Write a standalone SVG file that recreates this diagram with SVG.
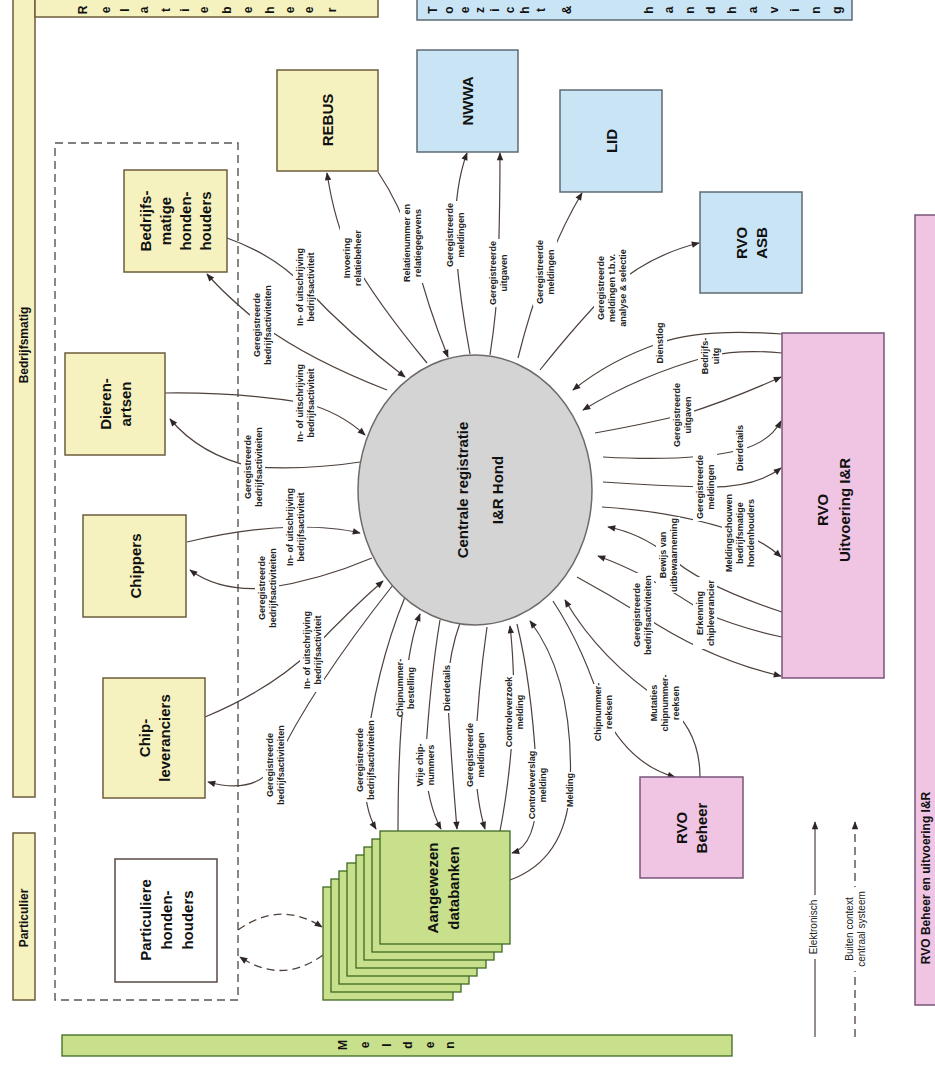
<svg xmlns="http://www.w3.org/2000/svg" width="935" height="1066" viewBox="0 0 935 1066">
<style>
.y{fill:#f6f2bf;stroke:#6e5c3c;stroke-width:1.5}
.b{fill:#c9e4f4;stroke:#5d6b73;stroke-width:1.5}
.p{fill:#efc5e3;stroke:#7a557a;stroke-width:1.5}
.g{fill:#c8df8c;stroke:#3e6a22;stroke-width:1.3}
.w{fill:#fff;stroke:#5a4a45;stroke-width:1.5}
.n{font-family:"Liberation Sans",Arial,sans-serif;font-weight:bold;font-size:15px;fill:#111;text-anchor:middle;dominant-baseline:central}
.bl{font-family:"Liberation Sans",Arial,sans-serif;font-weight:bold;font-size:12px;fill:#111;text-anchor:middle;dominant-baseline:central}
.c{fill:none;stroke:#4e413c;stroke-width:1.2;marker-end:url(#a)}
.d{fill:none;stroke:#4e413c;stroke-width:1.3;stroke-dasharray:8 5;marker-end:url(#a)}
.lb rect{fill:#fff}
.lb text{font-family:"Liberation Sans",Arial,sans-serif;font-weight:bold;font-size:9px;fill:#222;text-anchor:middle;dominant-baseline:central}
.lg text{font-family:"Liberation Sans",Arial,sans-serif;font-size:10px;fill:#222;text-anchor:middle;dominant-baseline:central}
</style>
<defs>
<marker id="a" viewBox="0 0 10 10" refX="9" refY="5" markerWidth="9" markerHeight="8" orient="auto" markerUnits="userSpaceOnUse"><path d="M0,1 L10,5 L0,9 z" fill="#2e2626"/></marker>
</defs>
<rect width="935" height="1066" fill="#fff"/>

<!-- swimlane bars -->
<g id="bar-bedrijfsmatig"><rect class="y" x="13" y="-2" width="22" height="799"/><text class="bl" font-size="14" transform="translate(24,345) rotate(-90)">Bedrijfsmatig</text></g>
<g id="bar-particulier"><rect class="y" x="13" y="833" width="22" height="167"/><text class="bl" font-size="15" transform="translate(24,918) rotate(-90)">Particulier</text></g>
<g id="bar-relatiebeheer"><rect class="y" x="35" y="-2" width="343" height="19"/>
<text class="bl" transform="translate(83,10) rotate(-90)">R</text><text class="bl" transform="translate(106,10) rotate(-90)">e</text><text class="bl" transform="translate(125,10) rotate(-90)">l</text><text class="bl" transform="translate(144,10) rotate(-90)">a</text><text class="bl" transform="translate(166,10) rotate(-90)">t</text><text class="bl" transform="translate(185,10) rotate(-90)">i</text><text class="bl" transform="translate(204,10) rotate(-90)">e</text><text class="bl" transform="translate(227,10) rotate(-90)">b</text><text class="bl" transform="translate(248,10) rotate(-90)">e</text><text class="bl" transform="translate(270,10) rotate(-90)">h</text><text class="bl" transform="translate(290,10) rotate(-90)">e</text><text class="bl" transform="translate(309,10) rotate(-90)">e</text><text class="bl" transform="translate(332,10) rotate(-90)">r</text>
</g>
<g id="bar-toezicht"><rect class="b" x="417" y="-2" width="435" height="22"/>
<text class="bl" transform="translate(433,10) rotate(-90)">T</text><text class="bl" transform="translate(449,10) rotate(-90)">o</text><text class="bl" transform="translate(465,10) rotate(-90)">e</text><text class="bl" transform="translate(480,10) rotate(-90)">z</text><text class="bl" transform="translate(495,10) rotate(-90)">i</text><text class="bl" transform="translate(510,10) rotate(-90)">c</text><text class="bl" transform="translate(525,10) rotate(-90)">h</text><text class="bl" transform="translate(541,10) rotate(-90)">t</text><text class="bl" transform="translate(567,10) rotate(-90)">&amp;</text><text class="bl" transform="translate(649,10) rotate(-90)">h</text><text class="bl" transform="translate(669,10) rotate(-90)">a</text><text class="bl" transform="translate(690,10) rotate(-90)">n</text><text class="bl" transform="translate(711,10) rotate(-90)">d</text><text class="bl" transform="translate(732,10) rotate(-90)">h</text><text class="bl" transform="translate(753,10) rotate(-90)">a</text><text class="bl" transform="translate(774,10) rotate(-90)">v</text><text class="bl" transform="translate(795,10) rotate(-90)">i</text><text class="bl" transform="translate(816,10) rotate(-90)">n</text><text class="bl" transform="translate(837,10) rotate(-90)">g</text>
</g>
<g id="bar-melden"><rect class="g" x="62" y="1035" width="670" height="21"/>
<text class="bl" transform="translate(343,1045) rotate(-90)">M</text><text class="bl" transform="translate(365,1045) rotate(-90)">e</text><text class="bl" transform="translate(387,1045) rotate(-90)">l</text><text class="bl" transform="translate(408,1045) rotate(-90)">d</text><text class="bl" transform="translate(430,1045) rotate(-90)">e</text><text class="bl" transform="translate(450,1045) rotate(-90)">n</text>
</g>
<g id="bar-rvo"><rect class="p" x="915" y="215" width="22" height="790"/><text class="bl" font-size="14" transform="translate(926,878) rotate(-90)">RVO Beheer en uitvoering I&amp;R</text></g>

<rect x="55" y="143" width="183" height="857" fill="none" stroke="#555" stroke-width="1.4" stroke-dasharray="8 5"/>

<!-- connectors -->
<g id="connectors">
<path class="c" d="M427,363 Q375,300 352,258 Q335,225 327,173"/>
<path class="c" d="M378,172 Q400,205 412,243 Q425,300 448,357"/>
<path class="c" d="M470,354 Q458,290 455,235 Q455,185 467,153"/>
<path class="c" d="M490,355 Q497,310 498,273 Q500,210 500,153"/>
<path class="c" d="M518,358 Q530,310 545,272 Q560,230 582,193"/>
<path class="c" d="M540,370 Q580,320 612,288 Q650,255 699,243"/>
<path class="c" d="M782,334 Q700,328 660,343 Q610,360 573,390"/>
<path class="c" d="M782,353 Q740,349 710,356 Q640,375 583,410"/>
<path class="c" d="M595,433 Q640,425 682,415 Q730,400 781,377"/>
<path class="c" d="M603,457 Q690,462 740,450 Q770,442 781,421"/>
<path class="c" d="M603,482 Q660,486 705,487 Q755,488 781,468"/>
<path class="c" d="M602,507 Q680,512 740,533 Q765,542 781,557"/>
<path class="c" d="M782,612 Q700,585 668,555 Q640,533 608,527"/>
<path class="c" d="M782,637 Q740,628 705,613 Q650,575 598,556"/>
<path class="c" d="M577,577 Q610,595 642,615 Q710,660 781,676"/>
<path class="c" d="M700,777 Q700,730 665,703 Q600,660 565,600"/>
<path class="c" d="M553,601 Q585,650 603,712 Q630,765 675,777"/>
<path class="c" d="M510,880 Q565,860 570,790 Q575,680 530,621"/>
<path class="c" d="M517,624 Q533,690 537,785 Q538,845 512,853"/>
<path class="c" d="M500,831 Q510,780 514,712 Q514,660 510,626"/>
<path class="c" d="M487,627 Q478,690 475,755 Q476,800 485,829"/>
<path class="c" d="M460,623 Q450,650 447,688 Q452,770 457,829"/>
<path class="c" d="M440,620 Q430,680 425,765 Q428,805 441,829"/>
<path class="c" d="M398,831 Q398,740 405,688 Q410,640 420,614"/>
<path class="c" d="M405,597 Q375,670 365,760 Q362,805 376,829"/>
<path class="c" d="M393,585 Q310,690 275,765 Q255,795 208,782"/>
<path class="c" d="M205,717 Q270,690 312,650 Q350,610 383,581"/>
<path class="c" d="M187,542 Q245,528 295,527 Q335,527 360,533"/>
<path class="c" d="M372,558 Q320,580 267,588 Q220,592 190,570"/>
<path class="c" d="M165,393 Q240,392 305,403 Q340,412 365,435"/>
<path class="c" d="M360,462 Q310,470 253,467 Q200,455 170,419"/>
<path class="c" d="M227,238 Q275,255 305,287 Q350,335 405,377"/>
<path class="c" d="M387,390 Q310,360 262,325 Q225,295 207,274"/>
<path class="d" d="M238,930 Q280,900 322,927"/>
<path class="d" d="M323,955 Q282,985 240,957"/>
</g>

<!-- connector labels -->
<g id="labels" class="lb">
<g transform="translate(352,258) rotate(-90)"><rect x="-32" y="-12" width="64" height="24"/><text y="-5.5">Invoering</text><text y="5.5">relatiebeheer</text></g>
<g transform="translate(412,243) rotate(-90)"><rect x="-40" y="-12" width="80" height="24"/><text y="-5.5">Relatienummer en</text><text y="5.5">relatiegegevens</text></g>
<g transform="translate(455,235) rotate(-90)"><rect x="-34" y="-12" width="68" height="24"/><text y="-5.5">Geregistreerde</text><text y="5.5">meldingen</text></g>
<g transform="translate(498,273) rotate(-90)"><rect x="-34" y="-12" width="68" height="24"/><text y="-5.5">Geregistreerde</text><text y="5.5">uitgaven</text></g>
<g transform="translate(545,272) rotate(-90)"><rect x="-34" y="-12" width="68" height="24"/><text y="-5.5">Geregistreerde</text><text y="5.5">meldingen</text></g>
<g transform="translate(612,288) rotate(-90)"><rect x="-42" y="-18" width="84" height="36"/><text y="-11">Geregistreerde</text><text y="0">meldingen t.b.v.</text><text y="11">analyse &amp; selectie</text></g>
<g transform="translate(660,343) rotate(-90)"><rect x="-22" y="-7" width="44" height="14"/><text y="0">Dienstlog</text></g>
<g transform="translate(710,356) rotate(-90)"><rect x="-20" y="-12" width="40" height="24"/><text y="-5.5">Bedrijfs-</text><text y="5.5">uitg</text></g>
<g transform="translate(682,415) rotate(-90)"><rect x="-34" y="-12" width="68" height="24"/><text y="-5.5">Geregistreerde</text><text y="5.5">uitgaven</text></g>
<g transform="translate(740,448) rotate(-90)"><rect x="-25" y="-7" width="50" height="14"/><text y="0">Dierdetails</text></g>
<g transform="translate(705,487) rotate(-90)"><rect x="-34" y="-12" width="68" height="24"/><text y="-5.5">Geregistreerde</text><text y="5.5">meldingen</text></g>
<g transform="translate(740,533) rotate(-90)"><rect x="-40" y="-18" width="80" height="36"/><text y="-11">Meldingschouwen</text><text y="0">bedrijfsmatige</text><text y="11">hondenhouders</text></g>
<g transform="translate(668,555) rotate(-90)"><rect x="-38" y="-12" width="76" height="24"/><text y="-5.5">Bewijs van</text><text y="5.5">uitbewaarneming</text></g>
<g transform="translate(705,613) rotate(-90)"><rect x="-36" y="-12" width="72" height="24"/><text y="-5.5">Erkenning</text><text y="5.5">chipleverancier</text></g>
<g transform="translate(642,615) rotate(-90)"><rect x="-42" y="-12" width="84" height="24"/><text y="-5.5">Geregistreerde</text><text y="5.5">bedrijfsactiviteiten</text></g>
<g transform="translate(665,703) rotate(-90)"><rect x="-28" y="-18" width="56" height="36"/><text y="-11">Mutaties</text><text y="0">chipnummer-</text><text y="11">reeksen</text></g>
<g transform="translate(603,712) rotate(-90)"><rect x="-28" y="-12" width="56" height="24"/><text y="-5.5">Chipnummer-</text><text y="5.5">reeksen</text></g>
<g transform="translate(570,790) rotate(-90)"><rect x="-18" y="-7" width="36" height="14"/><text y="0">Melding</text></g>
<g transform="translate(537,785) rotate(-90)"><rect x="-36" y="-12" width="72" height="24"/><text y="-5.5">Controleverslag</text><text y="5.5">melding</text></g>
<g transform="translate(514,712) rotate(-90)"><rect x="-37" y="-12" width="74" height="24"/><text y="-5.5">Controleverzoek</text><text y="5.5">melding</text></g>
<g transform="translate(475,755) rotate(-90)"><rect x="-34" y="-12" width="68" height="24"/><text y="-5.5">Geregistreerde</text><text y="5.5">meldingen</text></g>
<g transform="translate(447,688) rotate(-90)"><rect x="-25" y="-7" width="50" height="14"/><text y="0">Dierdetails</text></g>
<g transform="translate(425,765) rotate(-90)"><rect x="-26" y="-12" width="52" height="24"/><text y="-5.5">Vrije chip-</text><text y="5.5">nummers</text></g>
<g transform="translate(405,688) rotate(-90)"><rect x="-28" y="-12" width="56" height="24"/><text y="-5.5">Chipnummer-</text><text y="5.5">bestelling</text></g>
<g transform="translate(365,760) rotate(-90)"><rect x="-42" y="-12" width="84" height="24"/><text y="-5.5">Geregistreerde</text><text y="5.5">bedrijfsactiviteiten</text></g>
<g transform="translate(275,765) rotate(-90)"><rect x="-42" y="-12" width="84" height="24"/><text y="-5.5">Geregistreerde</text><text y="5.5">bedrijfsactiviteiten</text></g>
<g transform="translate(312,650) rotate(-90)"><rect x="-42" y="-12" width="84" height="24"/><text y="-5.5">In- of uitschrijving</text><text y="5.5">bedrijfsactiviteit</text></g>
<g transform="translate(295,527) rotate(-90)"><rect x="-42" y="-12" width="84" height="24"/><text y="-5.5">In- of uitschrijving</text><text y="5.5">bedrijfsactiviteit</text></g>
<g transform="translate(267,588) rotate(-90)"><rect x="-42" y="-12" width="84" height="24"/><text y="-5.5">Geregistreerde</text><text y="5.5">bedrijfsactiviteiten</text></g>
<g transform="translate(305,403) rotate(-90)"><rect x="-42" y="-12" width="84" height="24"/><text y="-5.5">In- of uitschrijving</text><text y="5.5">bedrijfsactiviteit</text></g>
<g transform="translate(253,467) rotate(-90)"><rect x="-42" y="-12" width="84" height="24"/><text y="-5.5">Geregistreerde</text><text y="5.5">bedrijfsactiviteiten</text></g>
<g transform="translate(305,287) rotate(-90)"><rect x="-42" y="-12" width="84" height="24"/><text y="-5.5">In- of uitschrijving</text><text y="5.5">bedrijfsactiviteit</text></g>
<g transform="translate(262,325) rotate(-90)"><rect x="-42" y="-12" width="84" height="24"/><text y="-5.5">Geregistreerde</text><text y="5.5">bedrijfsactiviteiten</text></g>
</g>

<!-- nodes -->
<g id="centrale"><ellipse cx="475" cy="490" rx="117" ry="135" fill="#d4d4d4" stroke="#6f6a68" stroke-width="1.5"/><g transform="translate(479,490) rotate(-90)"><text class="n" font-size="27" y="-17">Centrale registratie</text><text class="n" font-size="27" y="18">I&amp;R Hond</text></g></g>
<g id="rebus"><rect class="y" x="277" y="70" width="101" height="101"/><text class="n" font-size="14" transform="translate(327,120) rotate(-90)">REBUS</text></g>
<g id="nwwa"><rect class="b" x="417" y="50" width="101" height="102"/><text class="n" font-size="14" transform="translate(467,101) rotate(-90)">NWWA</text></g>
<g id="lid"><rect class="b" x="560" y="90" width="102" height="102"/><text class="n" font-size="14" transform="translate(611,141) rotate(-90)">LID</text></g>
<g id="rvo-asb"><rect class="b" x="700" y="192" width="102" height="101"/><g transform="translate(751,243) rotate(-90)"><text class="n" y="-10">RVO</text><text class="n" y="10">ASB</text></g></g>
<g id="rvo-uitvoering"><rect class="p" x="782" y="333" width="102" height="345"/><g transform="translate(833,510) rotate(-90)"><text class="n" font-size="16" y="-11">RVO</text><text class="n" font-size="16" y="11">Uitvoering I&amp;R</text></g></g>
<g id="rvo-beheer"><rect class="p" x="640" y="777" width="103" height="101"/><g transform="translate(691,828) rotate(-90)"><text class="n" y="-10">RVO</text><text class="n" y="10">Beheer</text></g></g>
<g id="bedrijfsmatige"><rect class="y" x="124" y="170" width="103" height="102"/><g transform="translate(175,221) rotate(-90)"><text class="n" y="-30">Bedrijfs-</text><text class="n" y="-10">matige</text><text class="n" y="10">honden-</text><text class="n" y="30">houders</text></g></g>
<g id="dierenartsen"><rect class="y" x="65" y="353" width="100" height="102"/><g transform="translate(115,404) rotate(-90)"><text class="n" y="-10">Dieren-</text><text class="n" y="10">artsen</text></g></g>
<g id="chippers"><rect class="y" x="83" y="515" width="103" height="102"/><text class="n" transform="translate(135,566) rotate(-90)">Chippers</text></g>
<g id="chipleveranciers"><rect class="y" x="103" y="678" width="102" height="120"/><g transform="translate(154,738) rotate(-90)"><text class="n" font-size="16" y="-10">Chip-</text><text class="n" font-size="16" y="10">leveranciers</text></g></g>
<g id="particuliere"><rect class="w" x="115" y="859" width="102" height="123"/><g transform="translate(166,920) rotate(-90)"><text class="n" font-size="16" y="-21">Particuliere</text><text class="n" font-size="16" y="0">honden-</text><text class="n" font-size="16" y="21">houders</text></g></g>
<g id="databanken">
<rect class="g" x="323" y="887" width="130" height="113"/><rect class="g" x="331" y="879" width="130" height="113"/><rect class="g" x="339" y="871" width="130" height="113"/><rect class="g" x="347" y="863" width="130" height="113"/><rect class="g" x="356" y="855" width="130" height="113"/><rect class="g" x="364" y="847" width="130" height="113"/><rect class="g" x="372" y="839" width="130" height="113"/><rect class="g" x="380" y="831" width="130" height="113"/>
<g transform="translate(442,888) rotate(-90)"><text class="n" font-size="16" y="-10">Aangewezen</text><text class="n" font-size="16" y="11">databanken</text></g>
</g>

<!-- legend -->
<g id="legend" class="lg">
<line x1="815" y1="1037" x2="815" y2="822" stroke="#4e413c" stroke-width="1.2" marker-end="url(#a)"/>
<line x1="855" y1="1037" x2="855" y2="822" stroke="#4e413c" stroke-width="1.3" stroke-dasharray="8 5" marker-end="url(#a)"/>
<g transform="translate(813,927) rotate(-90)"><rect x="-32" y="-7" width="64" height="14" fill="#fff"/><text>Elektronisch</text></g>
<g transform="translate(855,929) rotate(-90)"><rect x="-42" y="-13" width="84" height="26" fill="#fff"/><text y="-6">Buiten context</text><text y="6">centraal systeem</text></g>
</g>
</svg>
